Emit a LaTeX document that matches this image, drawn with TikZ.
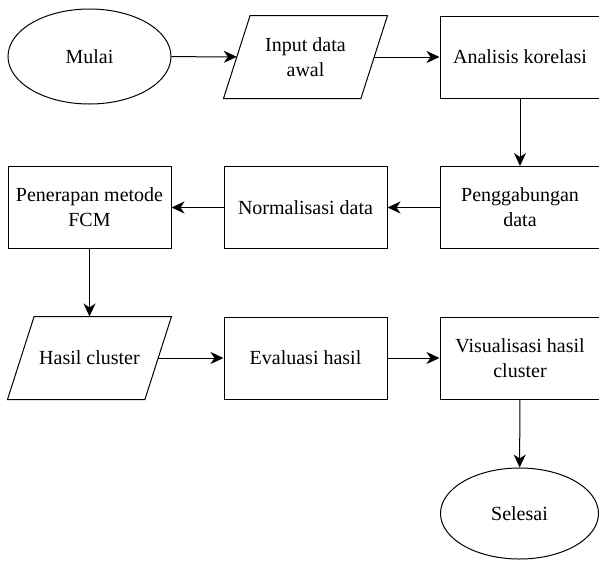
\documentclass[tikz,border=0pt]{standalone}
\usepackage{fontspec}
\setmainfont{Liberation Serif}
\usepackage{tikz}
\usetikzlibrary{shapes.geometric, arrows.meta}

\begin{document}
\begin{tikzpicture}[x=1pt, y=-1pt,
    font=\fontsize{20}{25}\selectfont,
    term/.style = {draw, ellipse, line width=1pt, minimum width=163pt, minimum height=95pt, inner sep=0pt},
    proc/.style = {draw, rectangle, line width=1pt, minimum width=163pt, minimum height=82pt, align=center, inner sep=2pt},
    io/.style = {proc, draw=none, minimum width=136.4pt,
        append after command={\pgfextra{\draw[line width=1pt] ([xshift=-13.3pt]\tikzlastnode.south west) -- ([xshift=13.3pt]\tikzlastnode.north west) -- ([xshift=13.3pt]\tikzlastnode.north east) -- ([xshift=-13.3pt]\tikzlastnode.south east) -- cycle;}}},
    arr/.style = {line width=1pt, -{Stealth[length=13pt, width=12pt, inset=4pt]}}]
                \useasboundingbox (0, 0) rectangle (599, 560);

                \node[term] at (89.5, 56.5) (mulai) {Mulai};
                \node[io] at (305.5, 57) (input) {Input data\\awal};
                \node[proc, minimum width=160pt] at (520, 57) (korelasi) {Analisis korelasi};
                \node[proc, minimum width=160pt] at (520, 207.5) (gabung) {Penggabungan\\data};
                \node[proc] at (305.5, 207.5) (normal) {Normalisasi data};
                \node[proc] at (89.5, 207.5) (fcm) {Penerapan metode\\FCM};
                \node[io] at (89.5, 358) (hasil) {Hasil cluster};
                \node[proc] at (305.5, 358) (evaluasi) {Evaluasi hasil};
                \node[proc, minimum width=160pt] at (520, 358) (visual) {Visualisasi hasil\\cluster};
                \node[term, minimum width=158pt, minimum height=91pt] at (519.5, 513.5) (selesai) {Selesai};

                \draw [arr] (mulai) -- (input);
                \draw [arr] (input) -- (korelasi);
                \draw [arr] (korelasi) -- (gabung);

                \draw [arr] (gabung) -- (normal);
                \draw [arr] (normal) -- (fcm);
                \draw [arr] (fcm) -- (hasil);

                \draw [arr] (hasil) -- (evaluasi);
                \draw [arr] (evaluasi) -- (visual);
                \draw [arr] (visual) -- (selesai);
            \end{tikzpicture}
\end{document}
